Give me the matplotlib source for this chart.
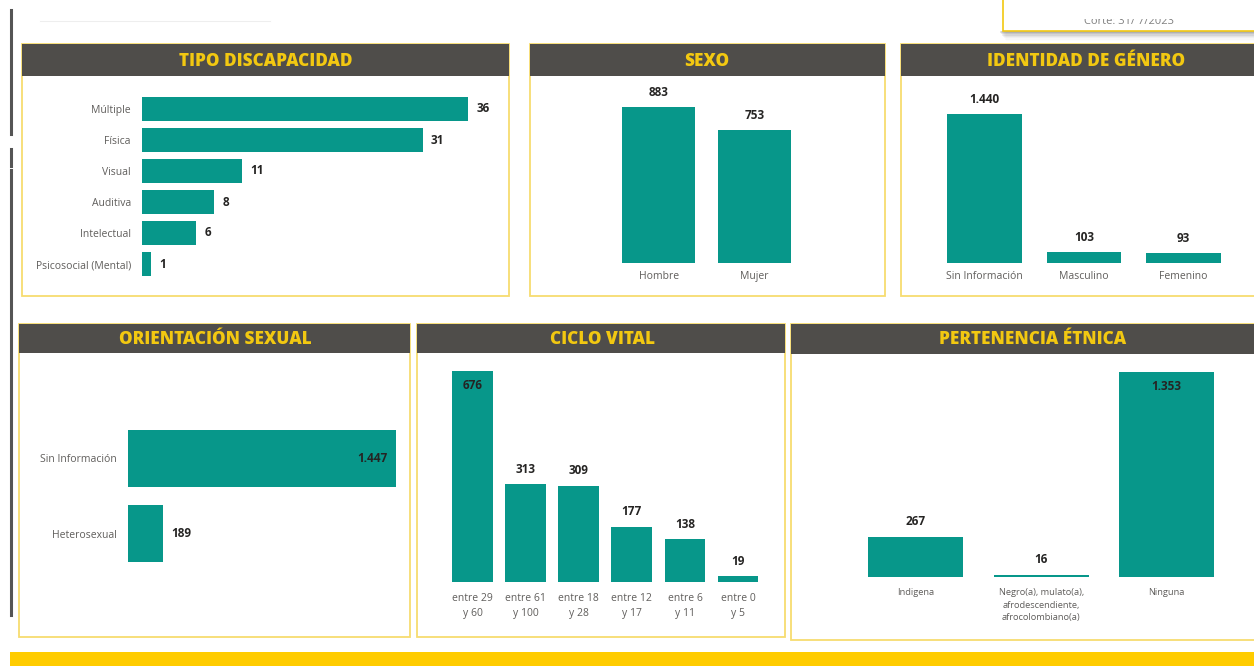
import matplotlib
matplotlib.use("Agg")
import matplotlib.pyplot as plt
from matplotlib.patches import Rectangle

# ---------------- data ----------------
tipo_cats = ["Múltiple", "Física", "Visual", "Auditiva", "Intelectual", "Psicosocial (Mental)"]
tipo_vals = [36, 31, 11, 8, 6, 1]

sexo_cats = ["Hombre", "Mujer"]
sexo_vals = [883, 753]

genero_cats = ["Sin Información", "Masculino", "Femenino"]
genero_vals = [1440, 103, 93]

orient_cats = ["Sin Información", "Heterosexual"]
orient_vals = [1447, 189]

ciclo_cats = ["entre 29\ny 60", "entre 61\ny 100", "entre 18\ny 28", "entre 12\ny 17", "entre 6\ny 11", "entre 0\ny 5"]
ciclo_vals = [676, 313, 309, 177, 138, 19]

etnia_cats = ["Indigena", "Negro(a), mulato(a),\nafrodescendiente,\nafrocolombiano(a)", "Ninguna"]
etnia_vals = [267, 16, 1353]

titles = ["TIPO DISCAPACIDAD", "SEXO", "IDENTIDAD DE GÉNERO",
          "ORIENTACIÓN SEXUAL", "CICLO VITAL", "PERTENENCIA ÉTNICA"]
corte_text = "Corte: 31/ 7/2023"

# ---------------- style ----------------
W, H = 1254, 666
TEAL = "#07978a"
HEADER = "#4f4d4a"
TITLE_C = "#f2c811"
BORDER = "#f7dc6f"
LABEL_C = "#605e5c"
VALUE_C = "#252423"
FONT = ["Open Sans", "DejaVu Sans"]
plt.rcParams["font.family"] = FONT

fig = plt.figure(figsize=(W / 100, H / 100), dpi=100)
fig.patch.set_facecolor("white")

def px(x0, y0, x1, y1):
    return [x0 / W, 1 - y1 / H, (x1 - x0) / W, (y1 - y0) / H]

bg = fig.add_axes([0, 0, 1, 1], zorder=-5)
bg.set_xlim(0, W)
bg.set_ylim(H, 0)
bg.axis("off")

def fmt(v):
    return f"{v:,}".replace(",", ".")

def panel(x0, y0, x1, y1, hh, title, tx):
    bg.add_patch(Rectangle((x0, y0), x1 - x0, y1 - y0, facecolor="white",
                           edgecolor=BORDER, lw=1.3, zorder=1))
    bg.add_patch(Rectangle((x0, y0), x1 - x0, hh, facecolor=HEADER,
                           edgecolor="none", zorder=2))
    bg.text(tx, y0 + hh / 2 + 1, title, color=TITLE_C, fontsize=12.3,
            fontweight="heavy", ha="center", va="center", zorder=3,
            family=["Open Sans", "DejaVu Sans"])

# panels
panel(22, 44, 509, 296, 32, titles[0], 266)
panel(530, 44, 885, 296, 32, titles[1], 707)
panel(901, 44, 1275, 296, 32, titles[2], 1086)
panel(19, 324, 410, 637, 29, titles[3], 215)
panel(417, 324, 785, 637, 29, titles[4], 602)
panel(791, 324, 1275, 640, 30, titles[5], 1033)

# bottom yellow bar
bg.add_patch(Rectangle((10, 652), W, 20, facecolor="#ffcc00", edgecolor="none"))
# left vertical line
bg.plot([11, 11], [10, 134], color="#555555", lw=2.2)
bg.plot([11, 11], [149, 166], color="#555555", lw=2.2)
bg.plot([11, 11], [170, 615], color="#555555", lw=2.2)
# faint line top-left
bg.plot([40, 270], [21, 21], color="#eeeeee", lw=0.8)

# top-right box with shadow
for i, a in enumerate([0.10, 0.08, 0.06, 0.045, 0.03, 0.02, 0.01]):
    bg.add_patch(Rectangle((1000 + i, 31), 260, 2 + i * 1.3, facecolor="black",
                           alpha=a, edgecolor="none", zorder=0))
bg.add_patch(Rectangle((1003, -5), 260, 36, facecolor="white", edgecolor="#f2c811",
                       lw=1.2, zorder=1))
cax = fig.add_axes(px(1005, 18.5, 1252, 30))
cax.set_xlim(0, 1)
cax.set_ylim(0, 1)
cax.axis("off")
cax.text(0.5, (30 - 24) / 11.5, corte_text, ha="center", va="baseline", fontsize=8,
         color="#808080", clip_on=True)

def style(ax):
    for s in ax.spines.values():
        s.set_visible(False)
    ax.set_facecolor("none")
    ax.tick_params(length=0, colors=LABEL_C)

VFS = 8.5

# ---------- Panel 1: tipo discapacidad (horizontal) ----------
ax1 = fig.add_axes(px(142, 93.5, 468, 279.5))
style(ax1)
y = range(len(tipo_vals))
ax1.barh(y, tipo_vals, height=0.77, color=TEAL)
ax1.set_xlim(0, max(tipo_vals))
ax1.set_ylim(len(tipo_vals) - 0.5, -0.5)
ax1.set_yticks(list(y))
ax1.set_yticklabels(tipo_cats, fontsize=7.5, color=LABEL_C)
ax1.tick_params(axis="y", pad=8)
ax1.set_xticks([])
for i, v in enumerate(tipo_vals):
    ax1.annotate(fmt(v), (v, i), xytext=(6, 0), textcoords="offset points",
                 ha="left", va="center", fontsize=VFS, fontweight="bold",
                 color=VALUE_C, annotation_clip=False)

# ---------- vertical bar helper ----------
def vbars(ax, cats, vals, width, inside_max, lab_fs=7.5, lab_pad=6):
    style(ax)
    x = list(range(len(vals)))
    ax.bar(x, vals, width=width, color=TEAL)
    ax.set_xlim(-0.5, len(vals) - 0.5)
    ax.set_ylim(0, max(vals))
    ax.set_yticks([])
    ax.set_xticks(x)
    ax.set_xticklabels(cats, fontsize=lab_fs, color=LABEL_C, linespacing=1.5)
    ax.tick_params(axis="x", pad=lab_pad)
    m = max(vals)
    for i, v in enumerate(vals):
        if inside_max and v == m:
            ax.annotate(fmt(v), (i, v), xytext=(0, -6), textcoords="offset points",
                        ha="center", va="top", fontsize=VFS, fontweight="bold",
                        color=VALUE_C, annotation_clip=False)
        else:
            ax.annotate(fmt(v), (i, v), xytext=(0, 6), textcoords="offset points",
                        ha="center", va="bottom", fontsize=VFS, fontweight="bold",
                        color=VALUE_C, annotation_clip=False)

# ---------- Panel 2: sexo ----------
ax2 = fig.add_axes(px(611, 107, 802, 263))
vbars(ax2, sexo_cats, sexo_vals, 0.76, False)

# ---------- Panel 3: identidad ----------
ax3 = fig.add_axes(px(935, 114, 1233, 263))
vbars(ax3, genero_cats, genero_vals, 0.755, False)

# ---------- Panel 4: orientacion (horizontal) ----------
ax4 = fig.add_axes(px(128, 421, 396, 571))
style(ax4)
y4 = range(len(orient_vals))
ax4.barh(y4, orient_vals, height=0.76, color=TEAL)
ax4.set_xlim(0, max(orient_vals))
ax4.set_ylim(len(orient_vals) - 0.5, -0.5)
ax4.set_yticks(list(y4))
ax4.set_yticklabels(orient_cats, fontsize=7.5, color=LABEL_C)
ax4.tick_params(axis="y", pad=8)
ax4.set_xticks([])
m4 = max(orient_vals)
for i, v in enumerate(orient_vals):
    if v == m4:
        ax4.annotate(fmt(v), (v, i), xytext=(-6, 0), textcoords="offset points",
                     ha="right", va="center", fontsize=VFS, fontweight="bold",
                     color=VALUE_C, annotation_clip=False)
    else:
        ax4.annotate(fmt(v), (v, i), xytext=(6, 0), textcoords="offset points",
                     ha="left", va="center", fontsize=VFS, fontweight="bold",
                     color=VALUE_C, annotation_clip=False)

# ---------- Panel 5: ciclo vital ----------
ax5 = fig.add_axes(px(446, 371, 764.6, 582))
vbars(ax5, ciclo_cats, ciclo_vals, 0.77, True, lab_fs=7.5, lab_pad=8)

# ---------- Panel 6: etnia ----------
ax6 = fig.add_axes(px(853, 372, 1229.5, 577))
vbars(ax6, etnia_cats, etnia_vals, 0.757, True, lab_fs=6.7, lab_pad=8)

fig.savefig("out.png", dpi=100, facecolor="white")
